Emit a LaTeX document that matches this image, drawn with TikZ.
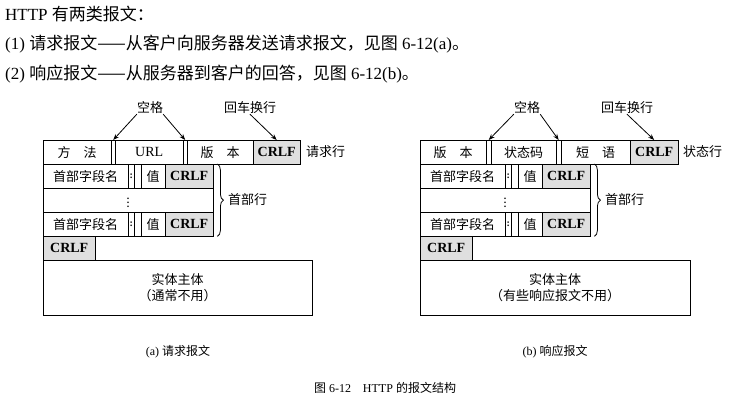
\documentclass[tikz,border=0pt]{standalone}
\usepackage{fontspec}
\setmainfont{Liberation Serif}
\newfontfamily\cjk{Noto Sans CJK SC}
\usetikzlibrary{arrows.meta}
\usetikzlibrary{decorations.pathreplacing}

\tikzset{
    fld/.style={draw, anchor=north west, minimum height=24pt, inner sep=0pt, font=\cjk\fontsize{13}{13}\selectfont},
    crlf/.style={fld, fill=gray!25, font=\fontsize{14}{14}\selectfont\bfseries},
    gap/.style={fld, font=\bfseries},
    tag/.style={inner sep=0pt, font=\cjk\fontsize{13}{13}\selectfont},
    pointer/.style={-{Stealth[length=6pt]}, thick},
    curly/.style={decorate, decoration={brace, amplitude=6pt}, thick},
}

\begin{document}
\begin{tikzpicture}[x=1pt, y=-1pt]
        \useasboundingbox (0,0) rectangle (744,409);

        \node[anchor=west, inner sep=0pt, font=\fontsize{17}{17}\selectfont] (intro) at (5,14) {HTTP {\cjk 有两类报文：}};
        \node[anchor=west, inner sep=0pt, font=\fontsize{17}{17}\selectfont] (item1) at (5,44) {(1) {\cjk 请求报文——从客户向服务器发送请求报文，见图} 6-12(a){\cjk 。}};
        \node[anchor=west, inner sep=0pt, font=\fontsize{17}{17}\selectfont] (item2) at (5,74) {(2) {\cjk 响应报文——从服务器到客户的回答，见图} 6-12(b){\cjk 。}};

        % request message
        \node[fld, minimum width=68pt] (qmethod) at (43,140) {方\quad 法};
        \node[fld, minimum width=4pt] (qsp1) at (111,140) {};
        \node[fld, minimum width=68pt, font=\fontsize{14}{14}\selectfont] (qurl) at (115,140) {URL};
        \node[fld, minimum width=4pt] (qsp2) at (183,140) {};
        \node[fld, minimum width=66pt] (qver) at (187,140) {版\quad 本};
        \node[crlf, minimum width=47pt] (qcrlf) at (253,140) {CRLF};
        \node[tag, anchor=west] (qline) at (306,152) {请求行};

        \node[fld, minimum width=85pt] (qname1) at (43,164) {首部字段名};
        \node[gap, minimum width=6pt] (qcolon1) at (128,164) {:};
        \node[fld, minimum width=7pt] (qsp3) at (134,164) {};
        \node[fld, minimum width=24pt] (qval1) at (141,164) {值};
        \node[crlf, minimum width=48pt] (qcrlf1) at (165,164) {CRLF};
        \node[fld, minimum width=170pt, font=\bfseries] (qdots) at (43,188) {$\vdots$};
        \node[fld, minimum width=85pt] (qname2) at (43,212) {首部字段名};
        \node[gap, minimum width=6pt] (qcolon2) at (128,212) {:};
        \node[fld, minimum width=7pt] (qsp4) at (134,212) {};
        \node[fld, minimum width=24pt] (qval2) at (141,212) {值};
        \node[crlf, minimum width=48pt] (qcrlf2) at (165,212) {CRLF};
        \node[crlf, minimum width=52pt] (qcrlf3) at (43,236) {CRLF};
        \node[fld, minimum width=269pt, minimum height=55pt, align=center] (qbody) at (43,260) {实体主体\\[3pt]（通常不用）};

        \coordinate (qb1) at ([xshift=4pt]qcrlf1.north east);
        \coordinate (qb2) at ([xshift=4pt]qcrlf2.south east);
        \draw[curly] (qb1) -- (qb2);
        \node[tag, anchor=west] (qhead) at (228,200) {首部行};

        \node[tag] (qspace) at (150,108) {空格};
        \node[tag] (qenter) at (250,108) {回车换行};
        \draw[pointer] (qspace.south west) -- (qsp1.north);
        \draw[pointer] (qspace.south east) -- (qsp2.north);
        \draw[pointer] (qenter.south) -- (qcrlf.north);

        % response message
        \node[fld, minimum width=66pt] (rver) at (420,140) {版\quad 本};
        \node[fld, minimum width=5pt] (rsp1) at (486,140) {};
        \node[fld, minimum width=65pt] (rcode) at (491,140) {状态码};
        \node[fld, minimum width=5pt] (rsp2) at (556,140) {};
        \node[fld, minimum width=69pt] (rphrase) at (561,140) {短\quad 语};
        \node[crlf, minimum width=48pt] (rcrlf) at (630,140) {CRLF};
        \node[tag, anchor=west] (rline) at (683,152) {状态行};

        \node[fld, minimum width=85pt] (rname1) at (420,164) {首部字段名};
        \node[gap, minimum width=6pt] (rcolon1) at (505,164) {:};
        \node[fld, minimum width=7pt] (rsp3) at (511,164) {};
        \node[fld, minimum width=24pt] (rval1) at (518,164) {值};
        \node[crlf, minimum width=48pt] (rcrlf1) at (542,164) {CRLF};
        \node[fld, minimum width=170pt, font=\bfseries] (rdots) at (420,188) {$\vdots$};
        \node[fld, minimum width=85pt] (rname2) at (420,212) {首部字段名};
        \node[gap, minimum width=6pt] (rcolon2) at (505,212) {:};
        \node[fld, minimum width=7pt] (rsp4) at (511,212) {};
        \node[fld, minimum width=24pt] (rval2) at (518,212) {值};
        \node[crlf, minimum width=48pt] (rcrlf2) at (542,212) {CRLF};
        \node[crlf, minimum width=52pt] (rcrlf3) at (420,236) {CRLF};
        \node[fld, minimum width=270pt, minimum height=55pt, align=center] (rbody) at (420,260) {实体主体\\[3pt]（有些响应报文不用）};

        \coordinate (rb1) at ([xshift=4pt]rcrlf1.north east);
        \coordinate (rb2) at ([xshift=4pt]rcrlf2.south east);
        \draw[curly] (rb1) -- (rb2);
        \node[tag, anchor=west] (rhead) at (605,200) {首部行};

        \node[tag] (rspace) at (527,108) {空格};
        \node[tag] (renter) at (627,108) {回车换行};
        \draw[pointer] (rspace.south west) -- (rsp1.north);
        \draw[pointer] (rspace.south east) -- (rsp2.north);
        \draw[pointer] (renter.south) -- (rcrlf.north);

        % captions
        \node[font=\fontsize{12}{12}\selectfont] (capa) at (178,352) {(a) {\cjk 请求报文}};
        \node[font=\fontsize{12}{12}\selectfont] (capb) at (555,352) {(b) {\cjk 响应报文}};
        \node[font=\fontsize{12}{12}\selectfont] (fig) at (385,388) {{\cjk 图} 6-12\quad HTTP {\cjk 的报文结构}};
    \end{tikzpicture}
\end{document}
